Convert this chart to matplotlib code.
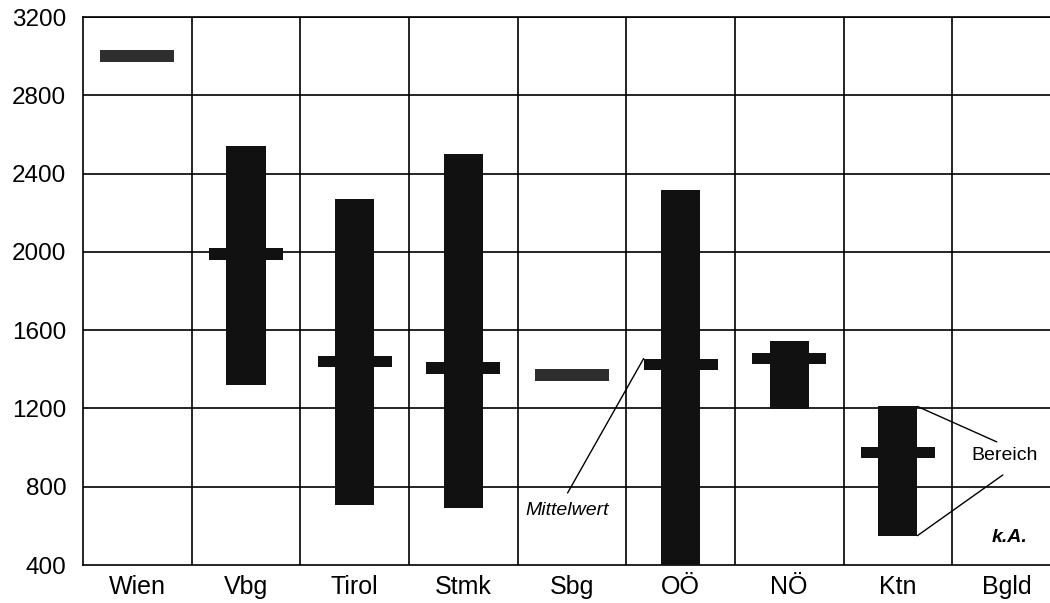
import matplotlib
matplotlib.use("Agg")
import matplotlib.pyplot as plt
from matplotlib.patches import Rectangle

plt.rcParams['font.family'] = ['Liberation Sans', 'DejaVu Sans']

categories = ["Wien", "Vbg", "Tirol", "Stmk", "Sbg", "OÖ", "NÖ", "Ktn", "Bgld"]
range_low = [None, 1320, 705, 690, None, 400, 1195, 550, None]
range_high = [None, 2540, 2270, 2500, None, 2315, 1545, 1210, None]
mean_val = [3000, 1990, 1440, 1405, 1370, 1425, 1455, 975, None]
y_ticks = [400, 800, 1200, 1600, 2000, 2400, 2800, 3200]

fig = plt.figure(figsize=(10.5, 6.03), dpi=100)
ax = fig.add_axes([83/1050, 1 - 565/603, 1 - 83/1050, (565 - 17)/603])
ax.set_xlim(-0.5, 8.4)
ax.set_ylim(400, 3200)

# grid
for yv in y_ticks[1:]:
    ax.axhline(yv, color='black', lw=1.2, zorder=1)
for i in range(len(categories) - 1):
    ax.axvline(i + 0.5, color='black', lw=1.2, zorder=1)
ax.spines['right'].set_visible(False)
for s in ['left', 'bottom', 'top']:
    ax.spines[s].set_linewidth(1.2)

range_w = 0.36
mean_w = 0.68
mean_h = 60
grey_cats = {"Wien", "Sbg"}
for i, c in enumerate(categories):
    lo, hi, m = range_low[i], range_high[i], mean_val[i]
    if lo is not None:
        ax.add_patch(Rectangle((i - range_w/2, lo), range_w, hi - lo,
                               facecolor='#111111', edgecolor='none', zorder=3))
    if m is not None:
        col = '#2e2e2e' if c in grey_cats else '#111111'
        ax.add_patch(Rectangle((i - mean_w/2, m - mean_h/2), mean_w, mean_h,
                               facecolor=col, edgecolor='none', zorder=4))

ax.set_xticks(range(len(categories)))
ax.set_xticklabels(categories, fontsize=18)
ax.set_yticks(y_ticks)
ax.set_yticklabels([str(v) for v in y_ticks], fontsize=17.5)
ax.tick_params(axis='both', length=0)
ax.tick_params(axis='y', pad=12)
ax.tick_params(axis='x', pad=7)

# annotations
oe = categories.index("OÖ")
ax.text(3.96, 681, "Mittelwert", fontsize=14, style='italic', ha='center', va='center')
ax.annotate("", xy=(oe - mean_w/2, mean_val[oe] + mean_h/2), xytext=(3.96, 768),
            arrowprops=dict(arrowstyle='-', color='black', lw=1, shrinkA=0, shrinkB=0))
kt = categories.index("Ktn")
ax.text(7.98, 962, "Bereich", fontsize=14, ha='center', va='center')
ax.annotate("", xy=(kt + range_w/2, range_high[kt]), xytext=(7.91, 1029),
            arrowprops=dict(arrowstyle='-', color='black', lw=1, shrinkA=0, shrinkB=0))
ax.annotate("", xy=(kt + range_w/2, range_low[kt]), xytext=(7.966, 860),
            arrowprops=dict(arrowstyle='-', color='black', lw=1, shrinkA=0, shrinkB=0))
ax.text(8.03, 543, "k.A.", fontsize=14, style='italic', weight='bold',
        ha='center', va='center')

fig.savefig("out.png", dpi=100)
